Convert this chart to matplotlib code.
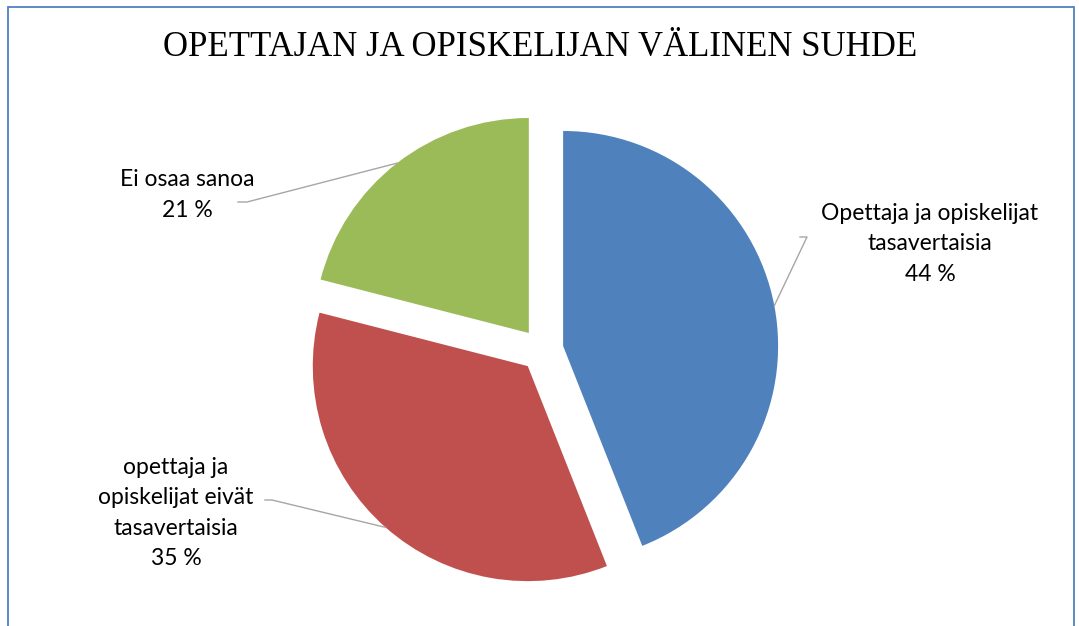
import math

import matplotlib
matplotlib.use("Agg")
import matplotlib.pyplot as plt
from matplotlib.patches import Rectangle

# data
categories = ["Opettaja ja opiskelijat\ntasavertaisia",
              "opettaja ja\nopiskelijat eivät\ntasavertaisia",
              "Ei osaa sanoa"]
shares = [44, 35, 21]
colors = ["#4F81BD", "#C0504D", "#9BBB59"]
title = "OPETTAJAN JA OPISKELIJAN VÄLINEN SUHDE"

W, H = 1079, 626
R = 215
fig = plt.figure(figsize=(W / 100, H / 100), dpi=100)
fig.patch.set_facecolor("white")
ax = fig.add_axes([0, 0, 1, 1])

# explode is absolute in data units -> 0.1 * radius
wedges, _ = ax.pie(shares, colors=colors, startangle=90, counterclock=False,
                   explode=[0.1 * R] * 3, center=(542, H - 350), radius=R,
                   wedgeprops=dict(linewidth=0))
ax.set_xlim(0, W)
ax.set_ylim(0, H)
ax.set_aspect("equal")
ax.set_axis_off()

# chart border
ax.add_patch(Rectangle((8, -20), 1066, H - 7 + 20, fill=False,
                       edgecolor="#4F81BD", lw=1.3, zorder=5))

ax.text(540, H - 47, title, fontsize=25, family="Liberation Serif",
        ha="center", va="center", color="#000000")

# labels: (text position, elbow point, horizontal end)
label_pos = [(930, 244), (176, 513), (187, 195)]
elbow = [((807, 237), (800, 237)), ((272, 500), (265, 500)), ((247, 202), (238, 202))]
for w, cat, val, (lx, ly), (e1, e2) in zip(wedges, categories, shares, label_pos, elbow):
    mid = math.radians((w.theta1 + w.theta2) / 2)
    cx, cy = w.center
    px, py = cx + w.r * math.cos(mid), cy + w.r * math.sin(mid)
    ax.plot([px, e1[0], e2[0]], [py, H - e1[1], H - e2[1]],
            color="#A6A6A6", lw=1.0, zorder=3)
    ax.text(lx, H - ly, f"{cat}\n{val} %", fontsize=16.5, family="Lato",
            ha="center", va="center", linespacing=1.55, color="#000000")

fig.savefig("out.png", dpi=100, facecolor="white")
